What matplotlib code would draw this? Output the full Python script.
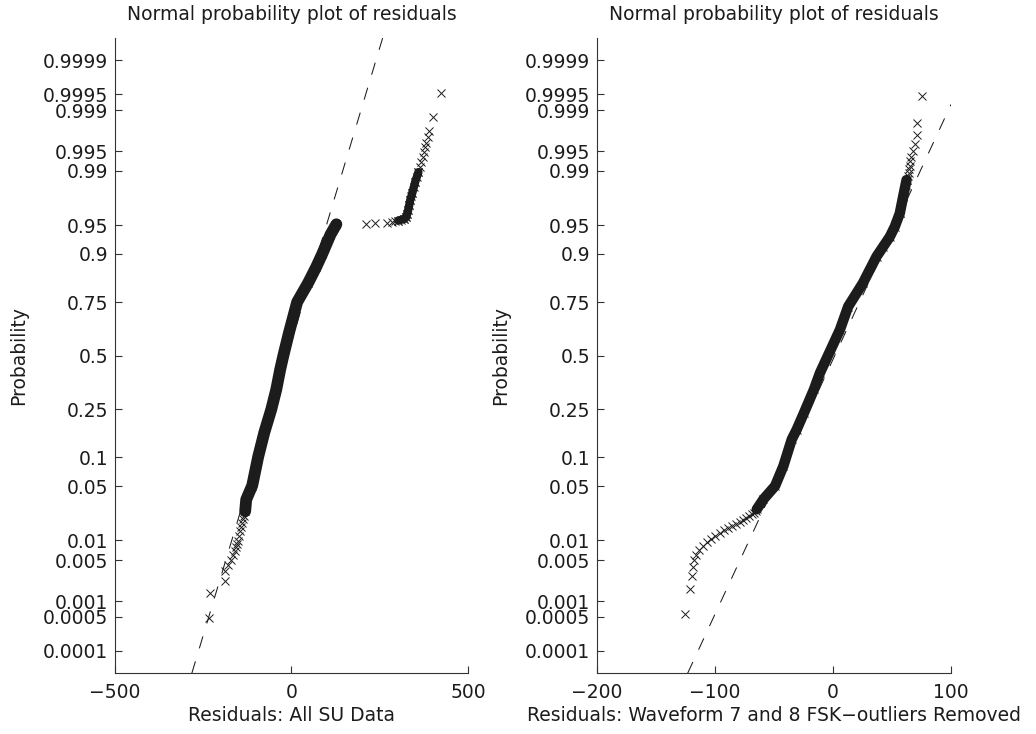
"""
Normal probability plots of the residuals (MATLAB normplot look-alike),
all SU data on the left, waveform 7/8 FSK-outliers removed on the right.
"""

import numpy as np
import matplotlib
matplotlib.use("Agg")
import matplotlib.pyplot as plt
from statistics import NormalDist

ND = NormalDist()

PROB_TICKS = [0.0001, 0.0005, 0.001, 0.005, 0.01, 0.05, 0.1, 0.25, 0.5,
              0.75, 0.9, 0.95, 0.99, 0.995, 0.999, 0.9995, 0.9999]
PROB_LABELS = ["0.0001", "0.0005", "0.001", "0.005", "0.01", "0.05", "0.1",
               "0.25", "0.5", "0.75", "0.9", "0.95", "0.99", "0.995",
               "0.999", "0.9995", "0.9999"]

# ---- left panel: all SU data ----
# dense middle of the plot (crosses merge into a solid band)
L_BAND_P = [0.025, 0.035, 0.051, 0.102, 0.166, 0.25, 0.335, 0.43, 0.5,
            0.614, 0.75, 0.82, 0.868, 0.90, 0.936, 0.951]
L_BAND_X = [-131, -128, -111, -94, -77, -57, -43, -32, -23,
            -7, 16, 47, 70, 87, 110, 127]
# dense part of the upper outlier group
L_UPBAND_P = [0.9556, 0.9574, 0.9597, 0.9627, 0.9666, 0.971, 0.975, 0.980,
              0.9857, 0.9896]
L_UPBAND_X = [302, 319, 325, 327, 330, 333, 336, 342, 350, 359]
# individually visible crosses
L_PTS_P = [0.00047, 0.0014, 0.0023, 0.0033, 0.0042, 0.0051, 0.0061, 0.0070,
           0.0079, 0.0089, 0.0098, 0.0117, 0.0136, 0.0154, 0.0175, 0.0197,
           0.022,
           0.9514, 0.9522, 0.9530, 0.9542, 0.9549, 0.9556, 0.9563, 0.9574,
           0.9597, 0.9627, 0.9666, 0.971, 0.975, 0.978, 0.980, 0.983,
           0.9857, 0.9878, 0.9896, 0.9912, 0.9926, 0.9938, 0.9948, 0.9957,
           0.9963, 0.997, 0.9977, 0.99865, 0.99953]
L_PTS_X = [-233, -230, -188, -187, -179, -171, -165, -161, -158, -155, -152,
           -149, -145, -142, -139, -137, -134,
           211, 235, 270, 284, 294, 302, 310, 319,
           325, 327, 330, 333, 336, 339, 342, 346,
           350, 354, 359, 363, 367, 371, 375, 378,
           381, 386, 390, 399, 423]
# reference line through the quartiles
L_REF_P = [0.25, 0.75]
L_REF_X = [-57.5, 33.5]

# ---- right panel: waveform 7 and 8, FSK outliers removed ----
R_BAND_P = [0.0265, 0.0352, 0.0504, 0.082, 0.1457, 0.176, 0.236, 0.335,
            0.414, 0.53, 0.628, 0.732, 0.82, 0.894, 0.915, 0.933, 0.948,
            0.9635, 0.9773, 0.9865]
R_BAND_X = [-64.5, -58.9, -49, -42, -34.9, -30.7, -24.5, -16.1,
            -11, -1.9, 5.9, 12.9, 25.4, 36.9, 42.5, 48.2, 52.4,
            56.6, 59.4, 62.3]
R_PTS_P = [0.00056, 0.00167, 0.00278, 0.00389, 0.005, 0.00611, 0.00722,
           0.00833, 0.00944, 0.01056, 0.01167, 0.01278, 0.01389, 0.015,
           0.01611, 0.01722, 0.01833, 0.01944, 0.02056, 0.02167, 0.02278,
           0.02389, 0.025,
           0.964, 0.968, 0.972, 0.975, 0.978, 0.981, 0.984, 0.9865, 0.988,
           0.9894, 0.9905, 0.99167, 0.99278, 0.99389, 0.995, 0.99611,
           0.99722, 0.99833, 0.99946]
R_PTS_X = [-125.1, -120.9, -119.2, -118.1, -117.5, -115.8, -113.3,
           -109.9, -106.5, -103.1, -99.7, -95.5, -92.1, -88.8,
           -85.4, -82, -78.6, -76.1, -73.5, -71, -68.5,
           -66.8, -65.1,
           56.5, 57, 57.8, 58.5, 59.5, 60.5, 61.5, 62.3, 63.3,
           64, 64.5, 65, 65.6, 66.5, 67.9, 69.3,
           70.8, 71.3, 75.5]
R_REF_P = [0.25, 0.75]
R_REF_X = [-19.5, 22.5]

INK = "#1c1c1c"
AXC = "#333333"
FS = 13.5


def probit(p):
    p = np.clip(np.asarray(p, dtype=float), 1e-12, 1 - 1e-12)
    return np.vectorize(ND.inv_cdf, otypes=[float])(p)


def norm_cdf(z):
    return np.vectorize(ND.cdf, otypes=[float])(np.asarray(z, dtype=float))


def normplot(ax, band_list, pts_p, pts_x, ref_p, ref_x, xlim, xticks, xlabel):
    ax.set_yscale("function", functions=(probit, norm_cdf))
    ax.set_xlim(*xlim)
    ax.set_ylim(ND.cdf(-4), ND.cdf(4))

    for bp, bx, lw in band_list:
        ax.plot(bx, bp, color=INK, lw=lw, solid_capstyle="round",
                solid_joinstyle="round", zorder=2)
        ax.plot(bx, bp, ls="none", marker="x", ms=6, mew=0.7, color=INK,
                zorder=3)
    ax.plot(pts_x, pts_p, ls="none", marker="x", ms=6, mew=0.7, color=INK,
            zorder=3)

    ax.axline((ref_x[0], ref_p[0]), (ref_x[1], ref_p[1]), color=INK,
              lw=0.75, ls=(0, (12, 13)), zorder=1)

    ax.set_yticks(PROB_TICKS)
    ax.set_yticklabels(PROB_LABELS)
    ax.minorticks_off()
    ax.set_xticks(xticks)

    for s in ("top", "right"):
        ax.spines[s].set_visible(False)
    for s in ("left", "bottom"):
        ax.spines[s].set_color(AXC)
        ax.spines[s].set_linewidth(0.8)
    ax.tick_params(axis="both", direction="in", length=5, width=0.8,
                   color=AXC, labelsize=FS, labelcolor=INK)
    ax.tick_params(axis="y", pad=4.5)
    ax.tick_params(axis="x", pad=7)

    ax.set_title("Normal probability plot of residuals", fontsize=FS,
                 color=INK, pad=13)
    ax.set_xlabel(xlabel, fontsize=FS, color=INK, labelpad=3)
    ax.set_ylabel("Probability", fontsize=FS, color=INK)
    ax.yaxis.set_label_coords(-0.245, 0.5)


def main():
    fig = plt.figure(figsize=(10.36, 7.34), dpi=100)
    ax_l = fig.add_axes([0.1107, 0.0827, 0.3413, 0.8655])
    ax_r = fig.add_axes([0.576, 0.0827, 0.342, 0.8655])

    normplot(ax_l,
             [(L_BAND_P, L_BAND_X, 8.5), (L_UPBAND_P, L_UPBAND_X, 6.0)],
             L_PTS_P, L_PTS_X, L_REF_P, L_REF_X,
             (-500, 500), [-500, 0, 500], "Residuals: All SU Data")
    normplot(ax_r,
             [(R_BAND_P, R_BAND_X, 7.5)],
             R_PTS_P, R_PTS_X, R_REF_P, R_REF_X,
             (-200, 100), [-200, -100, 0, 100],
             "Residuals: Waveform 7 and 8 FSK\u2212outliers Removed")

    fig.savefig("out.png", dpi=100)


if __name__ == "__main__":
    main()
